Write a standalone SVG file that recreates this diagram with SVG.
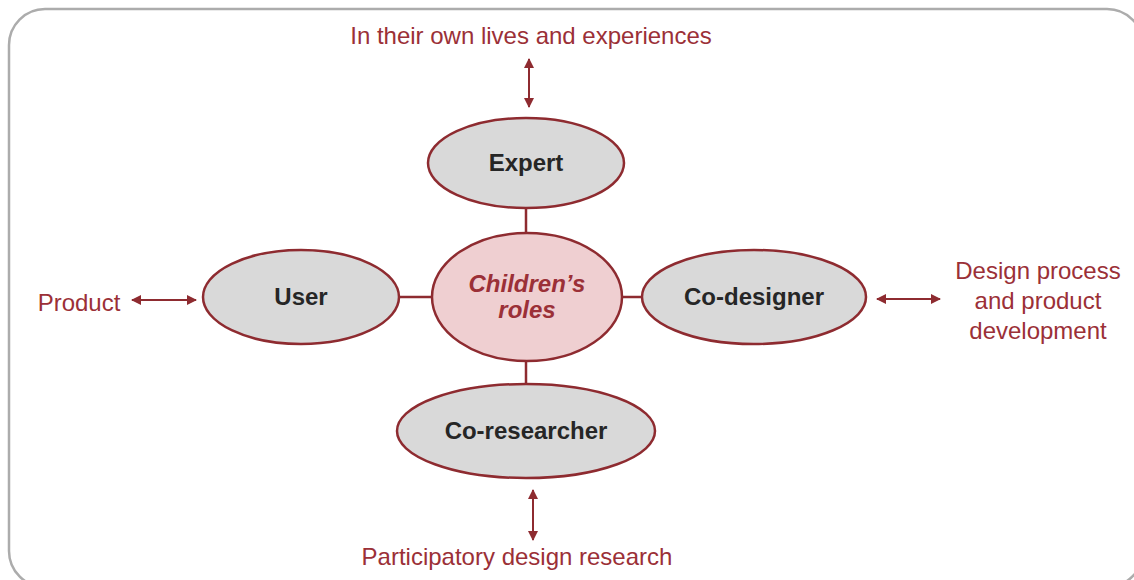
<svg xmlns="http://www.w3.org/2000/svg" width="1134" height="580" viewBox="0 0 1134 580">
<style>
.frame{fill:#fff;stroke:#acacac;stroke-width:2.5}
.node{fill:#d9d9d9;stroke:#8e2b30;stroke-width:2.5}
.core{fill:#efcfd1;stroke:#8e2b30;stroke-width:2.5}
.lbl{font-family:"Liberation Sans",Arial,sans-serif;font-size:24px;font-weight:bold;fill:#262626;text-anchor:middle}
.corelbl{font-family:"Liberation Sans",Arial,sans-serif;font-size:24px;font-weight:bold;font-style:italic;fill:#9b3037;text-anchor:middle}
.out{font-family:"Liberation Sans",Arial,sans-serif;font-size:24px;fill:#9b3037;text-anchor:middle}
.link{stroke:#8e2b30;stroke-width:2.5;fill:none}
.arr{stroke:#8e2b30;stroke-width:2;fill:none;marker-start:url(#ah);marker-end:url(#ah)}
</style>
<defs>
<marker id="ah" viewBox="0 0 10 10" refX="9" refY="5" markerWidth="5" markerHeight="5" orient="auto-start-reverse" markerUnits="strokeWidth">
<path d="M0,0 L10,5 L0,10 z" fill="#8e2b30"/>
</marker>
</defs>
<rect class="frame" x="9" y="9" width="1134" height="578" rx="36"/>
<g id="connectors">
<line class="link" x1="526" y1="208" x2="526" y2="233"/>
<line class="link" x1="400" y1="297" x2="432" y2="297"/>
<line class="link" x1="622" y1="297" x2="642" y2="297"/>
<line class="link" x1="526" y1="361" x2="526" y2="385"/>
<line class="arr" x1="529" y1="59" x2="529" y2="107"/>
<line class="arr" x1="132" y1="300" x2="196" y2="300"/>
<line class="arr" x1="877" y1="299" x2="940" y2="299"/>
<line class="arr" x1="533" y1="490" x2="533" y2="540"/>
</g>
<g id="expert">
<ellipse class="node" cx="526" cy="163" rx="98" ry="45"/>
<text class="lbl" x="526" y="171">Expert</text>
</g>
<g id="user">
<ellipse class="node" cx="301" cy="297" rx="98" ry="47"/>
<text class="lbl" x="301" y="305">User</text>
</g>
<g id="codesigner">
<ellipse class="node" cx="754" cy="297" rx="112" ry="47"/>
<text class="lbl" x="754" y="305">Co-designer</text>
</g>
<g id="coresearcher">
<ellipse class="node" cx="526" cy="431" rx="129" ry="47"/>
<text class="lbl" x="526" y="439">Co-researcher</text>
</g>
<g id="roles">
<ellipse class="core" cx="527" cy="297" rx="95" ry="64"/>
<text class="corelbl" x="527" y="292">Children’s</text>
<text class="corelbl" x="527" y="318">roles</text>
</g>
<g id="lbl-top"><text class="out" x="531" y="44">In their own lives and experiences</text></g>
<g id="lbl-left"><text class="out" x="79" y="311">Product</text></g>
<g id="lbl-right">
<text class="out" x="1038" y="279">Design process</text>
<text class="out" x="1038" y="309">and product</text>
<text class="out" x="1038" y="339">development</text>
</g>
<g id="lbl-bottom"><text class="out" x="517" y="565">Participatory design research</text></g>
</svg>
